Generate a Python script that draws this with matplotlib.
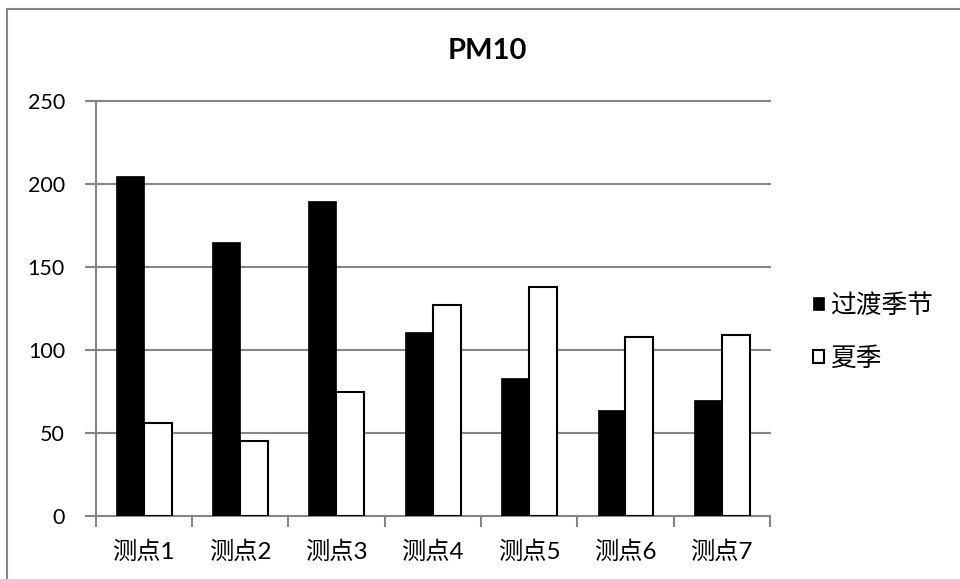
import matplotlib.pyplot as plt
from matplotlib.patches import Rectangle
import numpy as np

plt.rcParams['font.family'] = ['Lato', 'Noto Sans CJK SC', 'DejaVu Sans']

sites = ['测点1', '测点2', '测点3', '测点4', '测点5', '测点6', '测点7']
transition = [205, 165, 190, 111, 83, 64, 70]
summer = [56, 45, 75, 127, 138, 108, 109]
series_names = ['过渡季节', '夏季']
yticks = [0, 50, 100, 150, 200, 250]

grey = '#868686'
W, H = 960, 579

fig = plt.figure(figsize=(W / 100, H / 100), dpi=100)
ax = fig.add_axes([95.5 / W, (H - 516) / H, (770 - 95.5) / W, (516 - 101.5) / H])

x = np.arange(len(sites))
bw = 0.29
ax.bar(x - bw / 2, transition, bw, color='black', edgecolor='black', linewidth=0.5,
       label=series_names[0], zorder=3)
ax.bar(x + bw / 2, summer, bw, color='white', edgecolor='black', linewidth=1.5,
       label=series_names[1], zorder=3)

ax.set_xlim(-0.5, len(sites) - 0.5)
ax.set_ylim(0, 250)
ax.set_yticks(yticks)
ax.set_yticklabels([str(v) for v in yticks], fontsize=15.5)
for v in yticks[1:]:
    ax.axhline(v, color=grey, linewidth=1.5, zorder=0, clip_on=False)

# category ticks on boundaries, labels centred between them
ax.set_xticks(np.arange(len(sites) + 1) - 0.5)
ax.set_xticklabels([])
ax.set_xticks(x, minor=True)
ax.set_xticklabels(sites, minor=True, fontsize=17.5)
ax.tick_params(axis='x', which='minor', length=0, pad=18)
ax.tick_params(axis='x', which='major', length=8, width=1.5, color=grey)
ax.tick_params(axis='y', length=8, width=1.5, color=grey, pad=14)

for side in ['top', 'right']:
    ax.spines[side].set_visible(False)
for side in ['left', 'bottom']:
    ax.spines[side].set_color(grey)
    ax.spines[side].set_linewidth(1.5)

fig.text(487 / W, 1 - 51 / H, 'PM10', ha='center', va='center',
         fontsize=21, fontweight='bold')

ax.legend(loc='center left', bbox_to_anchor=(1.03, 0.444), frameon=False,
          fontsize=18.5, handlelength=0.4, handleheight=0.4, handletextpad=0.25,
          labelspacing=1.1)

# outer chart frame
fig.add_artist(Rectangle((6.5 / W, -0.1), 1.1, 1.1 - 9.5 / H, transform=fig.transFigure,
                         fill=False, edgecolor=grey, linewidth=1.5))

fig.savefig('out.png', dpi=100)
